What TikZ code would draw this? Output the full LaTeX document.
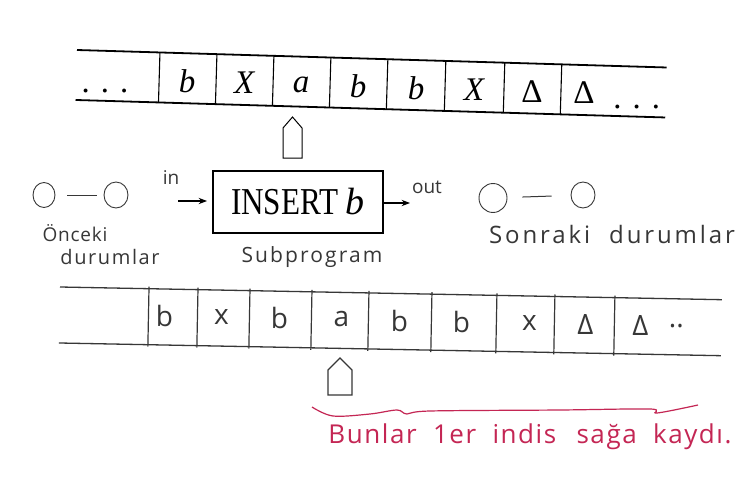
\documentclass[tikz,border=0pt]{standalone}
\usepackage{fontspec}
\setmainfont{Liberation Serif}
\newfontfamily\condfont[FakeStretch=0.82]{Liberation Serif}
\newfontfamily\handfont{Open Sans}
\usetikzlibrary{arrows.meta,positioning,calc,shapes.geometric}
\definecolor{redpen}{RGB}{196,38,84}
\definecolor{pencil}{RGB}{55,55,55}

\tikzset{
  tapeline/.style={line width=1.8pt},
  cellline/.style={line width=1.1pt},
  handline/.style={line width=1pt,draw=pencil},
  printsym/.style={font=\fontsize{33}{35}\selectfont\itshape},
  handsym/.style={font=\handfont\fontsize{28}{30}\selectfont,text=pencil},
  handtext/.style={font=\handfont\fontsize{21}{23}\selectfont\addfontfeature{LetterSpace=10},text=pencil},
  statenode/.style={ellipse,draw=pencil,line width=0.9pt,minimum width=24pt,minimum height=26pt,inner sep=0pt},
  programbox/.style={draw,line width=2pt,minimum width=170pt,minimum height=62pt,inner sep=0pt,
    font=\condfont\fontsize{38}{40}\selectfont},
  smallhand/.style={font=\handfont\fontsize{19}{21}\selectfont,text=pencil},
}

\begin{document}
\begin{tikzpicture}[x=1pt,y=-1pt,>=Stealth]
  \useasboundingbox[fill=white] (0,0) rectangle (749,492);

  % Printed tape (before), slightly tilted as on the scan.
  \begin{scope}[shift={(77,50)},rotate=-1.7]
    \draw[tapeline] (0,0) -- (590,0);
    \draw[tapeline] (0,50) -- (590,50);
    \foreach \x in {83,140,197,254,311,369,428,485}{
      \draw[cellline] (\x,0) -- (\x,50);
    }
    \foreach \x/\sym in {
        111/b,
        168/X,
        225/a,
        282/b,
        340/b,
        398/X,
        456/{\upshape Δ},
        508/{\upshape Δ}
    }{
      \node[printsym] at (\x,28) {\sym};
    }
    \node[printsym,anchor=base] (dotsL) at (30,42) {.\,\,.\,\,.};
    \node[printsym,anchor=base] (dotsR) at (562,42) {.\,\,.\,\,.};
  \end{scope}

  % Read/write head above.
  \draw[line width=1pt] (283,158) -- (283,128) -- (292.5,117) -- (302,128) -- (302,158) -- cycle;

  % Subprogram and its states.
  \node[statenode,minimum width=22pt,minimum height=25pt] (prevA) at (44,195) {};
  \node[statenode] (prevB) at (116,195) {};
  \draw[handline,shorten <=12pt,shorten >=7pt] (prevA) -- (prevB);

  \node[programbox] (insert) at (298,202) {INSERT $\mathit{b}$};
  \coordinate (inStart) at (178,201);
  \draw[->,line width=1.2pt,shorten >=5pt] (inStart) -- (insert.west |- inStart);
  \node[smallhand] (inLabel) at (171,178) {in};
  \coordinate (outEnd) at (410,203);
  \draw[->,line width=1.2pt] (insert.east |- outEnd) -- (outEnd);
  \node[smallhand] (outLabel) at (427,187) {out};

  \node[statenode,minimum width=28pt,minimum height=29pt] (nextA) at (493,198) {};
  \node[statenode] (nextB) at (583,195) {};
  \draw[handline,shorten <=15pt,shorten >=19pt] (nextA) -- (nextB);

  \node[handtext,font=\handfont\fontsize{19}{21}\selectfont\addfontfeature{LetterSpace=4}] (prevLabelA) at (75,233) {Önceki};
  \node[handtext,font=\handfont\fontsize{20}{22}\selectfont\addfontfeature{LetterSpace=8}] (prevLabelB) at (110,257) {durumlar};
  \node[handtext] (subLabel) at (312,257) {Subprogram};
  \node[handtext,font=\handfont\fontsize{24}{26}\selectfont\addfontfeature{LetterSpace=12}] (nextLabel) at (612,234)
    {Sonraki\hspace{10pt} durumlar};

  % Handwritten tape (after).
  \begin{scope}[shift={(60,287)},rotate=-1.1]
    \draw[handline,line width=1.3pt] (0,0) -- (662,0);
    \draw[handline,line width=1.3pt] (0,56) -- (662,56);
    \foreach \x in {89,138,190,252,309,372,437,495,555}{
      \draw[handline,line width=1.2pt] (\x,-2) -- (\x,58);
    }
    \foreach \x/\sym in {
        105/b,
        162/x,
        220/b,
        282/a,
        340/b,
        402/b,
        470/x,
        526/Δ,
        581/Δ
    }{
      \node[handsym] at (\x,27) {\sym};
    }
    \node[handsym] (dotsB) at (617,27) {..};
  \end{scope}

  % Read/write head below.
  \draw[handline,line width=1.2pt] (328,395) -- (328,370) -- (340,358) -- (352,370) -- (352,395) -- cycle;

  % Brace over the shifted cells.
  \draw[redpen,line width=1.2pt] plot[smooth,tension=0.55] coordinates {
    (312,407) (333,416) (370,414) (397,410) (407,414) (430,411) (560,410) (650,409) (657,413) (698,405)};
  \node[font=\handfont\fontsize{26}{28}\selectfont\addfontfeature{LetterSpace=6},text=redpen] (noteLabel) at (530,437)
    {Bunlar\hspace{8pt} 1er\hspace{8pt} indis\hspace{12pt} sağa\hspace{8pt} kaydı.};
\end{tikzpicture}
\end{document}
